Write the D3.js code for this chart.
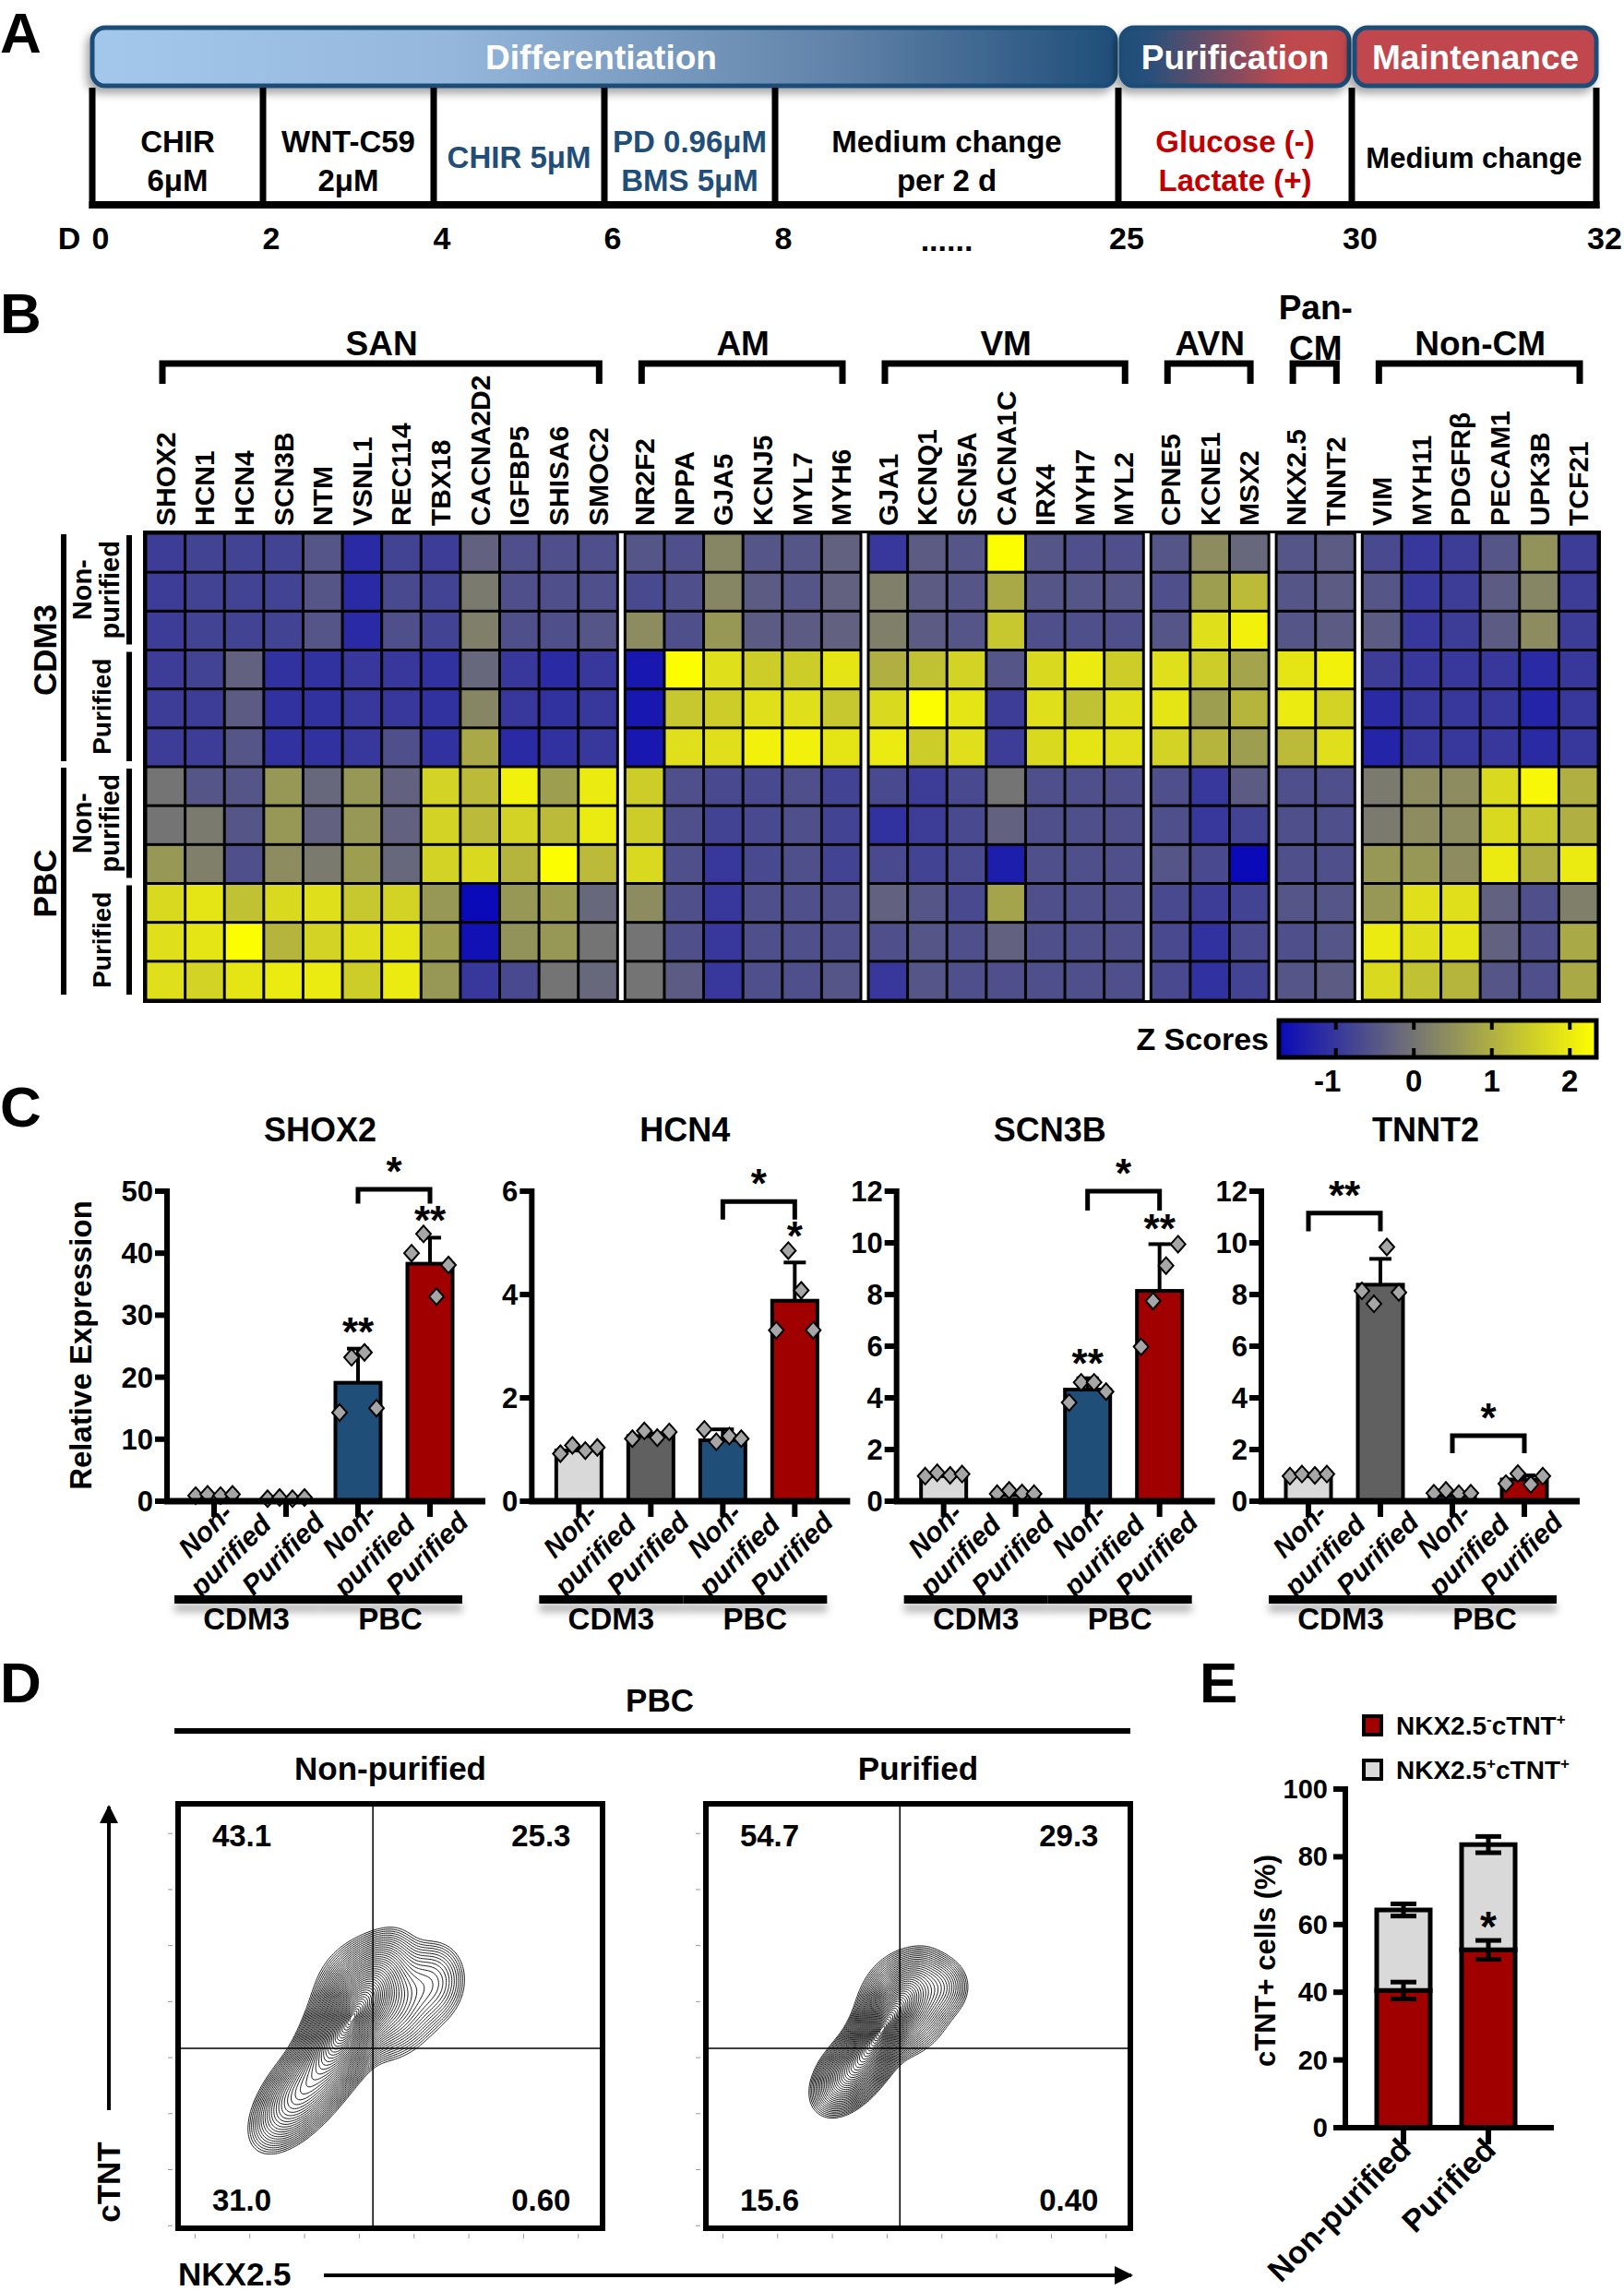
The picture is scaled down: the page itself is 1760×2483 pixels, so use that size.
<!DOCTYPE html>
<html><head><meta charset="utf-8">
<script src="https://cdn.jsdelivr.net/npm/d3@7"></script>
<style>html,body{margin:0;padding:0;background:#fff}</style>
</head><body>
<script>
// ================= DATA =================
// Panel A – protocol timeline
const timelineBounds = [0, 2, 4, 6, 8, 25, 30, 32];
const timelineLabels = ["0", "2", "4", "6", "8", "25", "30", "32"];
const stageNames = ["Differentiation", "Purification", "Maintenance"];
const stageFrom = [0, 25, 30];
const stageTo = [25, 30, 32];
const treatmentText = [["CHIR", "6μM"], ["WNT-C59", "2μM"], ["CHIR 5μM"], ["PD 0.96μM", "BMS 5μM"], ["Medium change", "per 2 d"], ["Glucose (-)", "Lactate (+)"], ["Medium change"]];
const treatmentKind = ["base", "base", "pacemaker", "pacemaker", "base", "selection", "base"];

// Panel B – heatmap
const markerGroups = ["SAN", "AM", "VM", "AVN", "Pan-CM", "Non-CM"];
const sanGenes = ["SHOX2", "HCN1", "HCN4", "SCN3B", "NTM", "VSNL1", "REC114", "TBX18", "CACNA2D2", "IGFBP5", "SHISA6", "SMOC2"];
const amGenes = ["NR2F2", "NPPA", "GJA5", "KCNJ5", "MYL7", "MYH6"];
const vmGenes = ["GJA1", "KCNQ1", "SCN5A", "CACNA1C", "IRX4", "MYH7", "MYL2"];
const avnGenes = ["CPNE5", "KCNE1", "MSX2"];
const panCmGenes = ["NKX2.5", "TNNT2"];
const nonCmGenes = ["VIM", "MYH11", "PDGFRβ", "PECAM1", "UPK3B", "TCF21"];
const sampleGroups = ["CDM3", "PBC"];
const sampleSubgroups = ["Non-purified", "Purified"];
const zCdm3NonPurified = [
  [-0.9,-0.8,-0.8,-0.8,-0.5,-1.2,-0.8,-0.9,-0.3,-0.6,-0.6,-0.6, -0.5,-0.6,0.3,-0.5,-0.5,-0.3, -1.0,-0.4,-0.5,2.3,-0.5,-0.6,-0.6, -0.5,0.4,-0.2, -0.5,-0.4, -0.7,-1.0,-0.9,-0.5,0.5,-0.9],
  [-0.9,-0.8,-0.8,-0.8,-0.5,-1.2,-0.7,-0.8,0.1,-0.6,-0.6,-0.6, -0.7,-0.6,0.3,-0.4,-0.5,-0.3, 0.2,-0.4,-0.5,0.9,-0.5,-0.5,-0.5, -0.6,0.7,1.2, -0.5,-0.4, -0.5,-1.0,-0.9,-0.4,0.3,-0.9],
  [-0.9,-0.8,-0.8,-0.8,-0.5,-1.2,-0.6,-0.8,0.2,-0.6,-0.6,-0.5, 0.4,-0.6,0.6,-0.4,-0.4,-0.3, 0.2,-0.4,-0.5,1.4,-0.6,-0.6,-0.6, -0.5,1.8,2.1, -0.5,-0.4, -0.4,-1.0,-0.9,-0.4,0.4,-0.9]];
const zCdm3Purified = [
  [-0.9,-0.8,-0.3,-1.1,-1.1,-1.0,-1.0,-1.1,-0.2,-1.0,-1.2,-1.0, -1.5,2.3,1.8,1.5,1.5,1.9, 1.0,1.3,1.6,-0.5,1.7,2.0,1.5, 1.8,1.5,0.8, 1.9,2.1, -0.9,-1.0,-1.0,-1.0,-1.2,-1.0],
  [-0.9,-0.9,-0.4,-1.1,-1.1,-1.0,-1.0,-1.1,0.3,-1.0,-1.1,-1.0, -1.5,1.4,1.5,1.8,1.8,1.4, 1.7,2.3,1.9,-0.9,1.8,1.3,1.8, 1.9,0.7,1.1, 2.0,1.6, -1.2,-1.0,-1.0,-1.0,-1.3,-1.0],
  [-0.9,-0.9,-0.5,-1.1,-1.1,-1.0,-0.6,-1.1,0.9,-1.2,-1.1,-1.0, -1.5,1.8,1.8,2.1,2.1,1.9, 2.0,1.5,1.8,-0.9,1.7,1.9,1.8, 1.6,1.1,0.7, 1.2,1.8, -1.3,-1.0,-1.0,-1.0,-1.2,-1.0]];
const zPbcNonPurified = [
  [0.0,-0.5,-0.5,0.6,-0.2,0.6,-0.3,1.6,1.2,2.1,0.7,2.0, 1.5,-0.6,-0.7,-0.7,-0.6,-0.8, -0.7,-0.9,-0.7,0.0,-0.6,-0.6,-0.6, -0.6,-1.0,-0.4, -0.6,-0.6, 0.1,0.4,0.4,1.7,2.2,1.0],
  [0.0,0.1,-0.5,0.6,-0.3,0.6,-0.3,1.6,1.2,1.6,1.2,2.0, 1.5,-0.6,-0.8,-0.7,-0.6,-0.8, -1.1,-0.9,-0.7,-0.3,-0.6,-0.6,-0.6, -0.6,-1.0,-0.8, -0.6,-0.6, 0.1,0.4,0.4,1.7,1.4,1.0],
  [0.6,0.2,-0.6,0.4,0.1,0.7,-0.2,1.6,1.7,1.1,2.3,1.2, 1.7,-0.6,-1.0,-0.7,-0.6,-0.8, -0.7,-0.8,-0.7,-1.4,-0.6,-0.6,-0.6, -0.5,-0.7,-1.8, -0.6,-0.6, 0.6,0.6,0.4,2.0,1.0,2.0]];
const zPbcPurified = [
  [1.7,1.9,1.3,1.7,1.8,1.4,1.6,0.6,-1.8,0.6,0.7,-0.2, 0.4,-0.6,-1.0,-0.6,-0.6,-0.6, -0.3,-0.5,-0.7,0.8,-0.6,-0.6,-0.6, -0.7,-0.9,-0.8, -0.5,-0.5, 0.6,1.8,1.8,-0.3,-0.6,0.2],
  [1.8,1.9,2.3,1.1,1.6,1.8,1.9,0.7,-1.6,0.5,0.6,0.0, 0.0,-0.6,-1.0,-0.6,-0.6,-0.6, -0.6,-0.5,-0.6,-0.3,-0.6,-0.6,-0.6, -0.7,-1.1,-0.7, -0.6,-0.5, 2.0,1.8,1.9,-0.3,-0.6,0.9],
  [1.8,1.6,1.9,2.0,2.0,1.5,2.0,0.6,-1.0,-0.7,0.0,-0.2, 0.0,-0.4,-1.0,-0.6,-0.6,-0.5, -1.0,-0.5,-0.6,-0.6,-0.6,-0.6,-0.6, -0.7,-1.1,-0.8, -0.5,-0.4, 1.7,1.3,1.1,-0.5,-0.6,0.9]];
const zDomain = [-1.73, 0, 2.34];
const zTicks = [-1, 0, 1, 2];

// Panel C – qPCR
const qpcrConditions = ["CDM3 Non-purified", "CDM3 Purified", "PBC Non-purified", "PBC Purified"];
const qpcrGenes = ["SHOX2", "HCN4", "SCN3B", "TNNT2"];
const qpcrYMax = [50, 6, 12, 12];
const qpcrYStep = [10, 2, 2, 2];
const shox2Mean = [1.0, 0.5, 19.1, 38.3];
const shox2Err = [0.1, 0.1, 5.5, 4.2];
const shox2Points = [[0.9, 1.1, 0.9, 1.1], [0.4, 0.6, 0.4, 0.6], [14.3, 23.2, 24.0, 15.0], [40.0, 43.1, 33.0, 38.1]];
const shox2Stars = [{ bar: 2, y: 27.9, text: "**" }, { bar: 3, y: 45.8, text: "**" }];
const shox2Brackets = [{ from: 2, to: 3, top: 50.3, leg: 48.0, text: "*" }];
const hcn4Mean = [0.98, 1.26, 1.18, 3.88];
const hcn4Err = [0.05, 0.05, 0.21, 0.74];
const hcn4Points = [[0.92, 1.08, 0.98, 1.04], [1.21, 1.36, 1.23, 1.34], [1.39, 1.15, 1.26, 1.21], [3.31, 4.85, 4.08, 3.31]];
const hcn4Stars = [{ bar: 3, y: 5.2, text: "*" }];
const hcn4Brackets = [{ from: 2, to: 3, top: 5.8, leg: 5.45, text: "*" }];
const scn3bMean = [0.97, 0.25, 4.32, 8.14];
const scn3bErr = [0.1, 0.05, 0.44, 1.81];
const scn3bPoints = [[0.97, 1.1, 1.0, 1.05], [0.29, 0.42, 0.32, 0.29], [3.82, 4.6, 4.6, 4.24], [5.98, 7.75, 9.12, 9.95]];
const scn3bStars = [{ bar: 2, y: 5.46, text: "**" }, { bar: 3, y: 10.67, text: "**" }];
const scn3bBrackets = [{ from: 2, to: 3, top: 12.0, leg: 11.25, text: "*" }];
const tnnt2Mean = [0.97, 8.38, 0.22, 0.84];
const tnnt2Err = [0.08, 1.0, 0.05, 0.16];
const tnnt2Points = [[0.97, 1.05, 1.0, 1.05], [8.14, 7.64, 9.84, 8.08], [0.31, 0.42, 0.29, 0.31], [0.68, 1.07, 0.65, 0.97]];
const tnnt2Stars = [];
const tnnt2Brackets = [{ from: 0, to: 1, top: 11.15, leg: 10.45, text: "**" }, { from: 2, to: 3, top: 2.54, leg: 1.86, text: "*" }];

// Panel D – flow cytometry (PBC)
const flowSamples = ["Non-purified", "Purified"];
const flowNonPurifiedQuadrants = ["43.1", "25.3", "31.0", "0.60"]; // UL, UR, LL, LR
const flowPurifiedQuadrants = ["54.7", "29.3", "15.6", "0.40"];
const flowGateX = [0.459, 0.457];
const flowGateY = [0.576, 0.576];
const flowNonPurifiedDensity = [
  { cx: 0.40, cy: 0.52, major: 0.085, minor: 0.034, angle: -60, weight: 1.0 },
  { cx: 0.29, cy: 0.68, major: 0.07, minor: 0.035, angle: -52, weight: 0.3 },
  { cx: 0.47, cy: 0.46, major: 0.06, minor: 0.06, angle: -75, weight: 0.3 },
  { cx: 0.60, cy: 0.42, major: 0.05, minor: 0.04, angle: -80, weight: 0.08 }];
const flowPurifiedDensity = [
  { cx: 0.41, cy: 0.54, major: 0.07, minor: 0.026, angle: -58, weight: 1.0 },
  { cx: 0.34, cy: 0.63, major: 0.05, minor: 0.03, angle: -50, weight: 0.3 },
  { cx: 0.47, cy: 0.47, major: 0.055, minor: 0.045, angle: -62, weight: 0.3 },
  { cx: 0.55, cy: 0.43, major: 0.035, minor: 0.035, angle: 0, weight: 0.08 }];

// Panel E – stacked bars
const cellGroups = ["Non-purified", "Purified"];
const nkxNegMean = [40.5, 52.5];
const nkxNegErr = [2.5, 2.8];
const nkxPosMean = [23.8, 31.1];
const totalErr = [1.8, 2.4];
const eYTicks = [0, 20, 40, 60, 80, 100];

// ================= DRAWING =================
const W = 1760, H = 2483;
const svg = d3.select("body").append("svg").attr("width", W).attr("height", H)
  .style("font-family", "'Liberation Sans', Arial, Helvetica, sans-serif").style("font-weight", "700");
const defs = svg.append("defs");
function grad(id, stops) {
  const g = defs.append("linearGradient").attr("id", id).attr("x1", "0").attr("x2", "1").attr("y1", "0").attr("y2", "0");
  stops.forEach(s => g.append("stop").attr("offset", s[0]).attr("stop-color", s[1]));
}
grad("gDiff", [[0, "#a4c8eb"], [0.35, "#94b7db"], [0.72, "#6384aa"], [1, "#1f4e79"]]);
grad("gPur", [[0, "#1f4e79"], [0.12, "#27507b"], [0.72, "#be4a4e"], [1, "#c0474b"]]);
defs.append("filter").attr("id", "shadow").attr("x", "-10%").attr("y", "-30%").attr("width", "120%").attr("height", "180%")
  .append("feDropShadow").attr("dx", -4).attr("dy", 6).attr("stdDeviation", 5).attr("flood-color", "#000").attr("flood-opacity", 0.35);
defs.append("filter").attr("id", "lineShadow").attr("x", "-5%").attr("y", "-100%").attr("width", "110%").attr("height", "400%")
  .append("feDropShadow").attr("dx", 0).attr("dy", 9).attr("stdDeviation", 4).attr("flood-color", "#000").attr("flood-opacity", 0.3);

function panelLabel(t, x, y) { svg.append("text").attr("x", x).attr("y", y).attr("font-size", 62).text(t); }

// ---------- Panel A ----------
panelLabel("A", 0, 57);
const day = d3.scaleLinear().domain([0, 8, 25, 30, 32]).range([100, 840, 1212, 1465, 1730]);
const gA = svg.append("g");
const stageFill = ["url(#gDiff)", "url(#gPur)", "#c0474d"];
stageNames.forEach((s, i) => {
  const x0 = day(stageFrom[i]) + (i ? 3 : 0), x1 = day(stageTo[i]) - (i < 2 ? 3 : 0);
  gA.append("rect").attr("x", x0).attr("y", 30).attr("width", x1 - x0).attr("height", 63).attr("rx", 14)
    .attr("fill", stageFill[i]).attr("stroke", "#1f4e79").attr("stroke-width", 5).attr("filter", "url(#shadow)");
  gA.append("text").attr("x", (x0 + x1) / 2 + (i === 0 ? -3 : 0)).attr("y", 75).attr("text-anchor", "middle")
    .attr("fill", "#fff").attr("font-size", 37).text(s);
});
const kindColor = { base: "#000", pacemaker: "#1f4e79", selection: "#c00000" };
treatmentText.forEach((lines, i) => {
  const cx = (day(timelineBounds[i]) + day(timelineBounds[i + 1])) / 2;
  const t = gA.append("text").attr("text-anchor", "middle").attr("font-size", i === 6 ? 31 : 33).attr("fill", kindColor[treatmentKind[i]]);
  if (lines.length === 2) {
    t.append("tspan").attr("x", cx).attr("y", 165).text(lines[0]);
    t.append("tspan").attr("x", cx).attr("y", 207).text(lines[1]);
  } else {
    t.append("tspan").attr("x", cx).attr("y", 182).text(lines[0]);
  }
});
timelineBounds.forEach(d => {
  gA.append("line").attr("x1", day(d)).attr("x2", day(d)).attr("y1", 95).attr("y2", 226).attr("stroke", "#000").attr("stroke-width", 7);
});
gA.append("line").attr("x1", day(0) - 3.5).attr("x2", day(32) + 3.5).attr("y1", 222).attr("y2", 222).attr("stroke", "#000").attr("stroke-width", 8);
gA.append("text").attr("x", day(0) - 25).attr("y", 270).attr("text-anchor", "middle").attr("font-size", 34).text("D");
timelineBounds.forEach((d, i) => {
  gA.append("text").attr("x", day(d) + 9).attr("y", 270).attr("text-anchor", "middle").attr("font-size", 34).text(timelineLabels[i]);
});
gA.append("text").attr("x", day(16.5)).attr("y", 272).attr("text-anchor", "middle").attr("font-size", 34).text("......");

// ---------- Panel B ----------
panelLabel("B", 0, 361);
const geneGroups = [sanGenes, amGenes, vmGenes, avnGenes, panCmGenes, nonCmGenes];
const allGenes = geneGroups.flat();
const geneGroupIdx = geneGroups.flatMap((g, gi) => g.map(() => gi));
const zRows = [...zCdm3NonPurified, ...zCdm3Purified, ...zPbcNonPurified, ...zPbcPurified];
const gapFrac = 8 / 42.6;
const colScale = d3.scaleLinear().domain([0, allGenes.length + (geneGroups.length - 1) * gapFrac]).range([158, 1732]);
const colLeft = i => colScale(i + geneGroupIdx[i] * gapFrac);
const cellW = colScale(1) - colScale(0);
const rowScale = d3.scaleBand().domain(d3.range(zRows.length)).range([578, 1084]);
const zColor = d3.scaleLinear().domain(zDomain).range(["#0a0ab9", "#747474", "#ffff00"]).clamp(true);
const gB = svg.append("g");
gB.append("rect").attr("x", 155).attr("y", 575).attr("width", 1580).attr("height", 512).attr("fill", "#000");
geneGroups.forEach((g, gi) => {
  if (gi === 0) return;
  const firstIdx = allGenes.indexOf(g[0]);
  const xr = colLeft(firstIdx);
  gB.append("rect").attr("x", xr - colScale(gapFrac) + colScale(0) + 1.5).attr("y", 578)
    .attr("width", colScale(gapFrac) - colScale(0) - 3).attr("height", 506).attr("fill", "#fff");
});
zRows.forEach((row, r) => {
  row.forEach((v, c) => {
    gB.append("rect").attr("x", colLeft(c) + 1.5).attr("y", rowScale(r) + 1.5)
      .attr("width", cellW - 3).attr("height", rowScale.bandwidth() - 3).attr("fill", zColor(v));
  });
});
allGenes.forEach((g, i) => {
  gB.append("text").attr("transform", `translate(${colLeft(i) + cellW / 2 + 10.5},570) rotate(-90)`)
    .attr("font-size", 30).text(g);
});
geneGroups.forEach((g, gi) => {
  const a = allGenes.indexOf(g[0]), b = allGenes.indexOf(g[g.length - 1]);
  const x0 = colLeft(a) + 18, x1 = colLeft(b) + cellW - 20;
  gB.append("path").attr("d", `M${x0},416V394H${x1}V416`).attr("fill", "none").attr("stroke", "#000").attr("stroke-width", 7);
  const cx = (colLeft(a) + colLeft(b) + cellW) / 2;
  if (markerGroups[gi] === "Pan-CM") {
    gB.append("text").attr("x", cx).attr("y", 346).attr("text-anchor", "middle").attr("font-size", 37).text("Pan-");
    gB.append("text").attr("x", cx).attr("y", 390).attr("text-anchor", "middle").attr("font-size", 37).text("CM");
  } else {
    gB.append("text").attr("x", cx).attr("y", 385).attr("text-anchor", "middle").attr("font-size", 37).text(markerGroups[gi]);
  }
});
sampleGroups.forEach((sg, si) => {
  const y0 = rowScale(si * 6), y1 = rowScale(si * 6 + 5) + rowScale.bandwidth();
  gB.append("line").attr("x1", 69).attr("x2", 69).attr("y1", y0 + 1).attr("y2", y1 - 6).attr("stroke", "#000").attr("stroke-width", 6);
  gB.append("text").attr("transform", `translate(${61},${(y0 + y1) / 2}) rotate(-90)`).attr("text-anchor", "middle").attr("font-size", 35).text(sg);
  sampleSubgroups.forEach((sub, k) => {
    const a = rowScale(si * 6 + k * 3) + 2, b = rowScale(si * 6 + k * 3 + 2) + rowScale.bandwidth() - 6;
    gB.append("line").attr("x1", 140).attr("x2", 140).attr("y1", a).attr("y2", b).attr("stroke", "#000").attr("stroke-width", 6);
    const cy = (a + b) / 2;
    if (sub === "Non-purified") {
      gB.append("text").attr("transform", `translate(${99},${cy}) rotate(-90)`).attr("text-anchor", "middle").attr("font-size", 29).text("Non-");
      gB.append("text").attr("transform", `translate(${129},${cy}) rotate(-90)`).attr("text-anchor", "middle").attr("font-size", 29).text("purified");
    } else {
      gB.append("text").attr("transform", `translate(${120},${cy}) rotate(-90)`).attr("text-anchor", "middle").attr("font-size", 28).text(sub);
    }
  });
});
const zAxis = d3.scaleLinear().domain([zDomain[0], zDomain[2]]).range([1386, 1730]);
const cbGrad = defs.append("linearGradient").attr("id", "cbar");
d3.range(0, 1.0001, 0.05).forEach(t => {
  const v = zDomain[0] + t * (zDomain[2] - zDomain[0]);
  cbGrad.append("stop").attr("offset", t).attr("stop-color", zColor(v));
});
gB.append("rect").attr("x", zAxis.range()[0]).attr("y", 1106).attr("width", zAxis.range()[1] - zAxis.range()[0]).attr("height", 40)
  .attr("fill", "url(#cbar)").attr("stroke", "#000").attr("stroke-width", 5);
zTicks.forEach(t => {
  gB.append("line").attr("x1", zAxis(t)).attr("x2", zAxis(t)).attr("y1", 1106).attr("y2", 1116).attr("stroke", "#000").attr("stroke-width", 4);
  gB.append("line").attr("x1", zAxis(t)).attr("x2", zAxis(t)).attr("y1", 1136).attr("y2", 1146).attr("stroke", "#000").attr("stroke-width", 4);
  gB.append("text").attr("x", zAxis(t) - (t < 0 ? 9 : 0)).attr("y", 1183).attr("text-anchor", "middle").attr("font-size", 33).text(t);
});
gB.append("text").attr("x", 1375).attr("y", 1138).attr("text-anchor", "end").attr("font-size", 34).text("Z Scores");

// ---------- Panel C ----------
panelLabel("C", 0, 1221);
const barColors = ["#d9d9d9", "#606060", "#1f4e79", "#a00000"];
const qpcrSets = [
  [shox2Mean, shox2Err, shox2Points, shox2Stars, shox2Brackets],
  [hcn4Mean, hcn4Err, hcn4Points, hcn4Stars, hcn4Brackets],
  [scn3bMean, scn3bErr, scn3bPoints, scn3bStars, scn3bBrackets],
  [tnnt2Mean, tnnt2Err, tnnt2Points, tnnt2Stars, tnnt2Brackets]];
const axisXs = d3.scaleLinear().domain([0, 3]).range([181, 1367]);
function diamond(cx, cy) { return `M${cx},${cy - 9}L${cx + 8},${cy}L${cx},${cy + 9}L${cx - 8},${cy}Z`; }
qpcrGenes.forEach((gene, k) => {
  const [mean, err, pts, stars, brackets] = qpcrSets[k];
  const ax = axisXs(k);
  const g = svg.append("g");
  const y = d3.scaleLinear().domain([0, qpcrYMax[k]]).range([1627, 1291]);
  const x = d3.scalePoint().domain(qpcrConditions).range([ax + 51, ax + 285]);
  const bw = 49;
  g.append("text").attr("x", ax + 166 + (k === 3 ? 12 : 0)).attr("y", 1237).attr("text-anchor", "middle").attr("font-size", 36).text(gene);
  g.append("line").attr("x1", ax).attr("x2", ax).attr("y1", y(qpcrYMax[k]) - 3).attr("y2", y(0) + 3).attr("stroke", "#000").attr("stroke-width", 6);
  d3.range(0, qpcrYMax[k] + 0.001, qpcrYStep[k]).forEach(t => {
    g.append("line").attr("x1", ax - 13).attr("x2", ax).attr("y1", y(t)).attr("y2", y(t)).attr("stroke", "#000").attr("stroke-width", 6);
    g.append("text").attr("x", ax - 15).attr("y", y(t) + 11).attr("text-anchor", "end").attr("font-size", 31).text(t);
  });
  qpcrConditions.forEach((c, i) => {
    const cx = x(c);
    if (err[i] > 0) {
      g.append("line").attr("x1", cx).attr("x2", cx).attr("y1", y(mean[i])).attr("y2", y(mean[i] + err[i])).attr("stroke", "#000").attr("stroke-width", 4);
      g.append("line").attr("x1", cx - 12).attr("x2", cx + 12).attr("y1", y(mean[i] + err[i])).attr("y2", y(mean[i] + err[i])).attr("stroke", "#000").attr("stroke-width", 4);
    }
    g.append("rect").attr("x", cx - bw / 2).attr("y", y(mean[i])).attr("width", bw).attr("height", y(0) - y(mean[i]))
      .attr("fill", barColors[i]).attr("stroke", "#000").attr("stroke-width", 4);
    const offs = [-20, -7, 7, 20];
    pts[i].forEach((p, j) => {
      g.append("path").attr("d", diamond(cx + offs[j], y(p))).attr("fill", "#a6a6a6").attr("stroke", "#000").attr("stroke-width", 2);
    });
  });
  g.append("line").attr("x1", ax - 3).attr("x2", ax + 345).attr("y1", y(0)).attr("y2", y(0)).attr("stroke", "#000").attr("stroke-width", 7);
  qpcrConditions.forEach((c, i) => {
    const cx = x(c);
    g.append("line").attr("x1", cx).attr("x2", cx).attr("y1", y(0)).attr("y2", y(0) + 17).attr("stroke", "#000").attr("stroke-width", 6);
    const sub = sampleSubgroups[i % 2];
    if (sub === "Non-purified") {
      const t = g.append("text").attr("transform", `translate(${cx - 2},${1666}) rotate(-45)`).attr("text-anchor", "middle")
        .attr("font-style", "italic").attr("font-size", 30);
      t.append("tspan").attr("x", 0).attr("dy", 0).text("Non-");
      t.append("tspan").attr("x", 0).attr("dy", 38).text("purified");
    } else {
      g.append("text").attr("transform", `translate(${cx + 4},${1691}) rotate(-45)`).attr("text-anchor", "middle")
        .attr("font-style", "italic").attr("font-size", 30).text(sub);
    }
  });
  sampleGroups.forEach((sg, si) => {
    const a = x(qpcrConditions[si * 2]) - 43, b = x(qpcrConditions[si * 2 + 1]) + 35;
    g.append("rect").attr("x", a).attr("y", 1729).attr("width", b - a).attr("height", 9).attr("fill", "#000").attr("filter", "url(#lineShadow)");
    g.append("text").attr("x", (a + b) / 2).attr("y", 1766).attr("text-anchor", "middle").attr("font-size", 33).text(sg);
  });
  stars.forEach(s => {
    g.append("text").attr("x", x(qpcrConditions[s.bar])).attr("y", y(s.y) + 19).attr("text-anchor", "middle").attr("font-size", 44).text(s.text);
  });
  brackets.forEach(b => {
    const x0 = x(qpcrConditions[b.from]), x1 = x(qpcrConditions[b.to]);
    g.append("path").attr("d", `M${x0},${y(b.leg)}V${y(b.top)}H${x1}V${y(b.leg)}`).attr("fill", "none").attr("stroke", "#000").attr("stroke-width", 5);
    g.append("text").attr("x", (x0 + x1) / 2).attr("y", y(b.top) - 4).attr("text-anchor", "middle").attr("font-size", 44).text(b.text);
  });
});
svg.append("text").attr("transform", "translate(99,1458) rotate(-90)").attr("text-anchor", "middle").attr("font-size", 33).text("Relative Expression");

// ---------- Panel D ----------
panelLabel("D", 0, 1845);
const gD = svg.append("g");
gD.append("text").attr("x", 715).attr("y", 1855).attr("text-anchor", "middle").attr("font-size", 35).text("PBC");
gD.append("line").attr("x1", 189).attr("x2", 1225).attr("y1", 1876).attr("y2", 1876).attr("stroke", "#000").attr("stroke-width", 6);
const flowBoxX = d3.scalePoint().domain(flowSamples).range([193, 765]);
const flowSets = [[flowNonPurifiedDensity, flowNonPurifiedQuadrants], [flowPurifiedDensity, flowPurifiedQuadrants]];
const boxSize = 460, boxY = 1955;
flowSamples.forEach((s, k) => {
  const bx = flowBoxX(s);
  const fx = d3.scaleLinear().domain([0, 1]).range([bx, bx + boxSize]);
  const fy = d3.scaleLinear().domain([0, 1]).range([boxY, boxY + boxSize]);
  gD.append("text").attr("x", fx(0.5)).attr("y", 1929).attr("text-anchor", "middle").attr("font-size", 35).text(s);
  const comps = flowSets[k][0];
  const n = 220;
  const vals = new Float64Array(n * n);
  for (let j = 0; j < n; j++) for (let i = 0; i < n; i++) {
    const px = (i + 0.5) / n, py = (j + 0.5) / n;
    let v = 0;
    comps.forEach(c => {
      const a = c.angle * Math.PI / 180, dx = px - c.cx, dy = py - c.cy;
      const u = dx * Math.cos(a) + dy * Math.sin(a), w = -dx * Math.sin(a) + dy * Math.cos(a);
      v += c.weight * Math.exp(-0.5 * (u * u / (c.major * c.major) + w * w / (c.minor * c.minor)));
    });
    vals[j * n + i] = v;
  }
  const maxV = d3.max(vals);
  const rOuter = Math.sqrt(2 * Math.log(maxV / 0.015));
  const nLevels = 42;
  const levels = d3.range(nLevels).map(q => maxV * Math.exp(-0.5 * Math.pow(rOuter - q * (rOuter - 0.12) / (nLevels - 1), 2)));
  const contours = d3.contours().size([n, n]).thresholds(levels)(vals);
  const path = d3.geoPath(d3.geoTransform({ point(px, py) { this.stream.point(fx(px / n), fy(py / n)); } }));
  gD.append("g").selectAll("path").data(contours).join("path").attr("d", path)
    .attr("fill", "none").attr("stroke", "#1a1a1a").attr("stroke-width", 1);
  d3.range(8).forEach(q => {
    gD.append("line").attr("x1", fx(0.04 + q * 0.129)).attr("x2", fx(0.04 + q * 0.129)).attr("y1", fy(1) + 6).attr("y2", fy(1) + 11).attr("stroke", "#999").attr("stroke-width", 1);
    gD.append("line").attr("x1", fx(0) - 11).attr("x2", fx(0) - 6).attr("y1", fy(0.07 + q * 0.132)).attr("y2", fy(0.07 + q * 0.132)).attr("stroke", "#999").attr("stroke-width", 1);
  });
  gD.append("line").attr("x1", fx(flowGateX[k])).attr("x2", fx(flowGateX[k])).attr("y1", fy(0)).attr("y2", fy(1)).attr("stroke", "#000").attr("stroke-width", 1.5);
  gD.append("line").attr("x1", fx(0)).attr("x2", fx(1)).attr("y1", fy(flowGateY[k])).attr("y2", fy(flowGateY[k])).attr("stroke", "#000").attr("stroke-width", 1.5);
  gD.append("rect").attr("x", fx(0)).attr("y", fy(0)).attr("width", boxSize).attr("height", boxSize).attr("fill", "none").attr("stroke", "#000").attr("stroke-width", 6);
  const q = flowSets[k][1];
  const qx = [0.15, 0.855, 0.15, 0.855], qy = [0.074, 0.074, 0.933, 0.933];
  q.forEach((val, i) => {
    gD.append("text").attr("x", fx(qx[i])).attr("y", fy(qy[i]) + 12).attr("text-anchor", "middle").attr("font-size", 33).text(val);
  });
});
defs.append("marker").attr("id", "arrow").attr("viewBox", "0 0 10 10").attr("refX", 9).attr("refY", 5)
  .attr("markerWidth", 5).attr("markerHeight", 5).attr("orient", "auto")
  .append("path").attr("d", "M0,0L10,5L0,10Z").attr("fill", "#000");
gD.append("line").attr("x1", 118).attr("x2", 118).attr("y1", 2287).attr("y2", 1958).attr("stroke", "#000").attr("stroke-width", 4).attr("marker-end", "url(#arrow)");
gD.append("text").attr("transform", "translate(130,2365) rotate(-90)").attr("text-anchor", "middle").attr("font-size", 35).text("cTNT");
gD.append("text").attr("x", 193).attr("y", 2477).attr("font-size", 35).text("NKX2.5");
gD.append("line").attr("x1", 351).attr("x2", 1226).attr("y1", 2466).attr("y2", 2466).attr("stroke", "#000").attr("stroke-width", 4).attr("marker-end", "url(#arrow)");

// ---------- Panel E ----------
panelLabel("E", 1300, 1845);
const gE = svg.append("g");
const eAxisX = 1458;
const ey = d3.scaleLinear().domain([0, 100]).range([2306, 1939]);
const ex = d3.scalePoint().domain(cellGroups).range([1521, 1613]);
const ebw = 58;
const legendItems = [{ fill: "#a00000", sup1: "-" }, { fill: "#d9d9d9", sup1: "+" }];
legendItems.forEach((it, i) => {
  const ly = 1860 + i * 48;
  gE.append("rect").attr("x", 1478).attr("y", ly).attr("width", 19).attr("height", 20).attr("fill", it.fill).attr("stroke", "#000").attr("stroke-width", 4);
  const t = gE.append("text").attr("x", 1513).attr("y", ly + 20).attr("font-size", 28);
  t.append("tspan").text("NKX2.5");
  t.append("tspan").attr("font-size", 17).attr("dy", -11).text(it.sup1);
  t.append("tspan").attr("dy", 11).text("cTNT");
  t.append("tspan").attr("font-size", 17).attr("dy", -11).text("+");
});
gE.append("line").attr("x1", eAxisX).attr("x2", eAxisX).attr("y1", ey(100) - 3).attr("y2", ey(0) + 3).attr("stroke", "#000").attr("stroke-width", 6);
eYTicks.forEach(t => {
  gE.append("line").attr("x1", eAxisX - 13).attr("x2", eAxisX).attr("y1", ey(t)).attr("y2", ey(t)).attr("stroke", "#000").attr("stroke-width", 6);
  gE.append("text").attr("x", eAxisX - 19).attr("y", ey(t) + 10).attr("text-anchor", "end").attr("font-size", 29).text(t);
});
cellGroups.forEach((c, i) => {
  const cx = ex(c);
  const top = nkxNegMean[i] + nkxPosMean[i];
  gE.append("rect").attr("x", cx - ebw / 2).attr("y", ey(top)).attr("width", ebw).attr("height", ey(nkxNegMean[i]) - ey(top))
    .attr("fill", "#d9d9d9").attr("stroke", "#000").attr("stroke-width", 5);
  gE.append("rect").attr("x", cx - ebw / 2).attr("y", ey(nkxNegMean[i])).attr("width", ebw).attr("height", ey(0) - ey(nkxNegMean[i]))
    .attr("fill", "#a00000").attr("stroke", "#000").attr("stroke-width", 5);
  [[nkxNegMean[i], nkxNegErr[i]], [top, totalErr[i]]].forEach(([m, e]) => {
    gE.append("line").attr("x1", cx).attr("x2", cx).attr("y1", ey(m - e)).attr("y2", ey(m + e)).attr("stroke", "#000").attr("stroke-width", 5);
    [m - e, m + e].forEach(v => gE.append("line").attr("x1", cx - 14).attr("x2", cx + 14).attr("y1", ey(v)).attr("y2", ey(v)).attr("stroke", "#000").attr("stroke-width", 5));
  });
  gE.append("line").attr("x1", cx).attr("x2", cx).attr("y1", ey(0)).attr("y2", ey(0) + 18).attr("stroke", "#000").attr("stroke-width", 6);
  gE.append("text").attr("transform", `translate(${cx + 10},${2332}) rotate(-45)`).attr("text-anchor", "end").attr("font-size", 34).text(c);
});
gE.append("line").attr("x1", eAxisX - 3).attr("x2", 1684).attr("y1", ey(0)).attr("y2", ey(0)).attr("stroke", "#000").attr("stroke-width", 6);
gE.append("text").attr("x", ex("Purified")).attr("y", ey(60.4) + 20).attr("text-anchor", "middle").attr("font-size", 46).text("*");
gE.append("text").attr("transform", "translate(1382,2125) rotate(-90)").attr("text-anchor", "middle").attr("font-size", 31).text("cTNT+ cells (%)");
</script>
</body></html>
